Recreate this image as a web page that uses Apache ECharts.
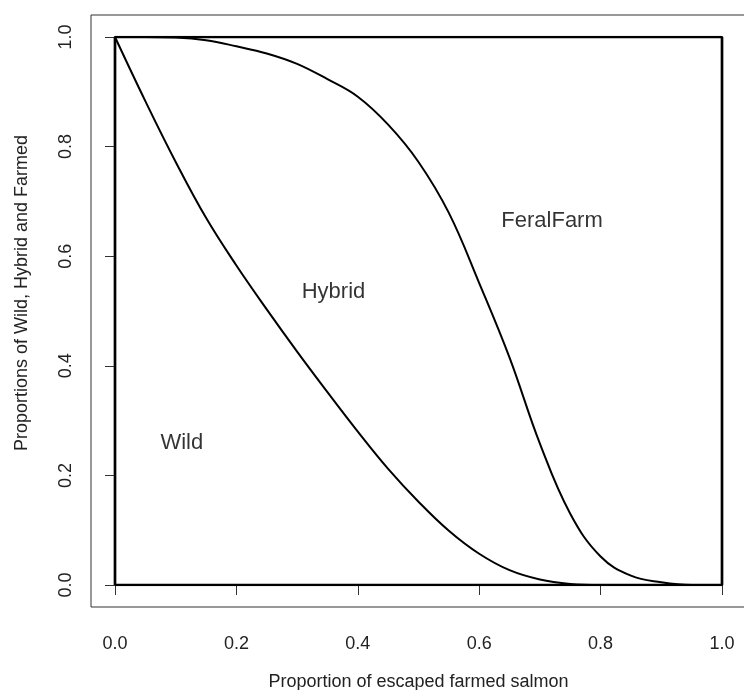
<!DOCTYPE html>
<html>
<head>
<meta charset="utf-8">
<script src="https://cdn.jsdelivr.net/npm/echarts@6/dist/echarts.min.js"></script>
<style>
    html, body { margin: 0; padding: 0; background: #fff; }
    #main { width: 744px; height: 690px; }
</style>
</head>
<body>
<div id="main"></div>
<script>
    // proportion of escaped farmed salmon
    var xs = [0, 0.05, 0.1, 0.15, 0.2, 0.25, 0.3, 0.35, 0.4, 0.45, 0.5, 0.55, 0.6, 0.65, 0.7, 0.75, 0.8, 0.85, 0.9, 0.95, 1.0];
    // wild / hybrid boundary
    var wildLine = [1.0, 0.883, 0.772, 0.67, 0.583, 0.503, 0.426, 0.352, 0.28, 0.212, 0.152, 0.099, 0.057, 0.027, 0.01, 0.002, 0, 0, 0, 0, 0];
    // hybrid / feral farm boundary
    var feralLine = [1.0, 1.0, 0.999, 0.994, 0.983, 0.97, 0.951, 0.923, 0.891, 0.84, 0.772, 0.679, 0.551, 0.415, 0.258, 0.13, 0.052, 0.017, 0.005, 0.0, 0.0];
    // box round the unit square
    var boxX = [0, 1, 1, 0, 0];
    var boxY = [0, 0, 1, 1, 0];
    // region names
    var labelNames = ['FeralFarm', 'Hybrid', 'Wild'];
    var labelX = [0.72, 0.36, 0.11];
    var labelY = [0.665, 0.535, 0.26];

    function pairs(a, b) {
        var out = [];
        for (var i = 0; i < a.length; i++) {
            out.push([a[i], b[i]]);
        }
        return out;
    }

    var labelData = [];
    for (var i = 0; i < labelNames.length; i++) {
        labelData.push({ name: labelNames[i], value: [labelX[i], labelY[i]] });
    }

    var chart = echarts.init(document.getElementById('main'));

    var option = {
        backgroundColor: '#fff',
        animation: false,
        grid: [
            { left: 115, top: 37, width: 607, height: 548, outerBoundsMode: 'none', containLabel: false },
            // outer frame (R box)
            { left: 91, top: 15, width: 655, height: 592, outerBoundsMode: 'none', containLabel: false,
              show: true, borderColor: '#333', borderWidth: 1, backgroundColor: 'transparent' }
        ],
        xAxis: [{
            type: 'value', gridIndex: 0, min: 0, max: 1, interval: 0.2, offset: 22,
            name: 'Proportion of escaped farmed salmon', nameLocation: 'middle', nameGap: 66,
            nameTextStyle: { fontFamily: 'Liberation Sans', fontSize: 18, color: '#222' },
            axisLine: { show: false },
            axisTick: { show: true, length: 10, lineStyle: { color: '#333', width: 1 } },
            splitLine: { show: false },
            axisLabel: {
                margin: 28, fontFamily: 'Liberation Sans', fontSize: 18, color: '#222',
                formatter: function (v) { return v.toFixed(1); }
            }
        }, {
            type: 'value', gridIndex: 1, min: 0, max: 1, show: false
        }],
        yAxis: [{
            type: 'value', gridIndex: 0, min: 0, max: 1, interval: 0.2, offset: 24,
            name: 'Proportions of Wild, Hybrid and Farmed', nameLocation: 'middle', nameGap: 60,
            nameTextStyle: { fontFamily: 'Liberation Sans', fontSize: 18, color: '#222', padding: [0, 0, 0, 36] },
            axisLine: { show: false },
            axisTick: { show: true, length: 10, lineStyle: { color: '#333', width: 1 } },
            splitLine: { show: false },
            axisLabel: {
                rotate: 90, margin: 16, fontFamily: 'Liberation Sans', fontSize: 18, color: '#222',
                formatter: function (v) { return v.toFixed(1); }
            }
        }, {
            type: 'value', gridIndex: 1, min: 0, max: 1, show: false
        }],
        series: [{
            type: 'line',
            data: pairs(boxX, boxY),
            symbol: 'none',
            lineStyle: { color: '#000', width: 2.7 }
        }, {
            type: 'line',
            data: pairs(xs, wildLine),
            symbol: 'none',
            smooth: 0.4,
            lineStyle: { color: '#000', width: 2 }
        }, {
            type: 'line',
            data: pairs(xs, feralLine),
            symbol: 'none',
            smooth: 0.4,
            lineStyle: { color: '#000', width: 2 }
        }, {
            type: 'scatter',
            data: labelData,
            symbolSize: 0,
            label: {
                show: true,
                position: 'inside',
                formatter: '{b}',
                fontFamily: 'Liberation Sans',
                fontSize: 22,
                color: '#000'
            }
        }]
    };
    option && chart.setOption(option);
</script>
</body>
</html>
